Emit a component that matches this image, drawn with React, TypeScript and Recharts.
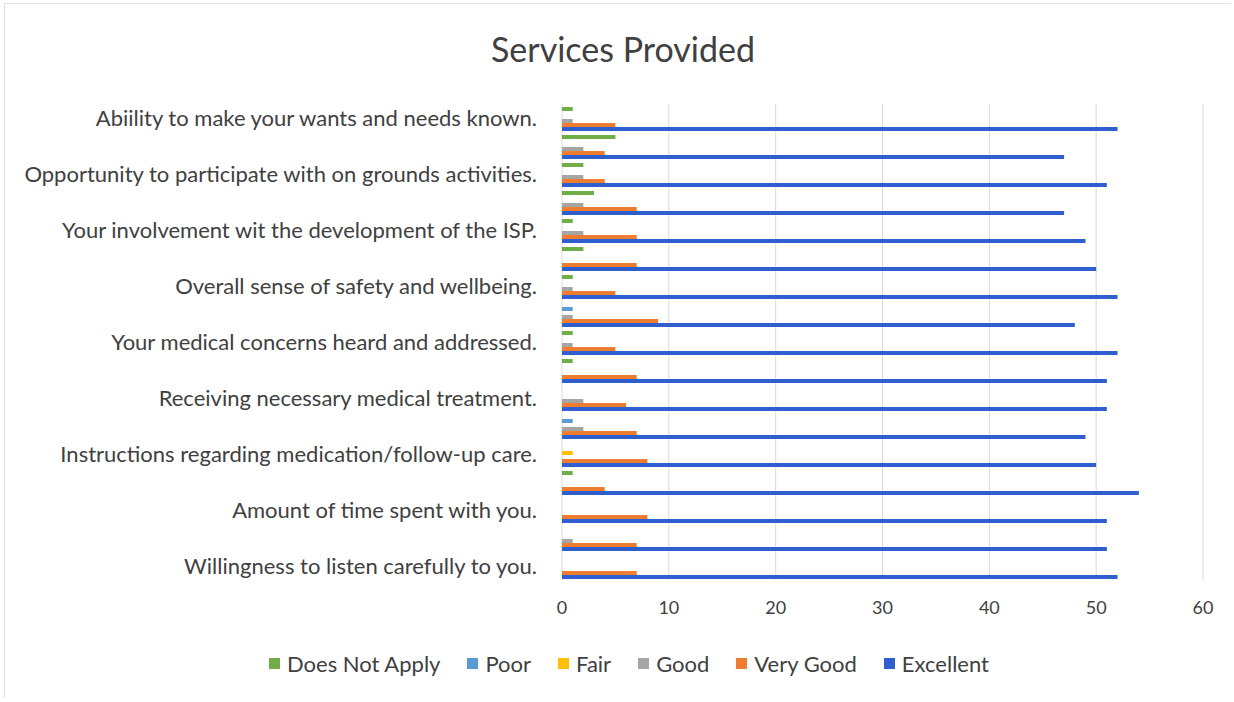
import { Bar, BarChart, CartesianGrid, Legend, XAxis, YAxis } from 'recharts';

const categories = [
  'Abiility to make your wants and needs known.',
  'Respect for your privacy.',
  'Opportunity to participate with on grounds activities.',
  'Opportunity to participate in off grounds activities.',
  'Your involvement wit the development of the ISP.',
  'Staff treat you with dignity and respect.',
  'Overall sense of safety and wellbeing.',
  'Ability to see a doctor when needed.',
  'Your medical concerns heard and addressed.',
  'Explanations of your medical condition.',
  'Receiving necessary medical treatment.',
  'Access to dental care.',
  'Instructions regarding medication/follow-up care.',
  'Courtesy shown to you.',
  'Amount of time spent with you.',
  'Staff answered your questions.',
  'Willingness to listen carefully to you.',
];

const doesNotApply = [1, 5, 2, 3, 1, 2, 1, 0, 1, 1, 0, 0, 0, 1, 0, 0, 0];
const poor = [0, 0, 0, 0, 0, 0, 0, 1, 0, 0, 0, 1, 0, 0, 0, 0, 0];
const fair = [0, 0, 0, 0, 0, 0, 0, 0, 0, 0, 0, 0, 1, 0, 0, 0, 0];
const good = [1, 2, 2, 2, 2, 0, 1, 1, 1, 0, 2, 2, 0, 0, 0, 1, 0];
const veryGood = [5, 4, 4, 7, 7, 7, 5, 9, 5, 7, 6, 7, 8, 4, 8, 7, 7];
const excellent = [52, 47, 51, 47, 49, 50, 52, 48, 52, 51, 51, 49, 50, 54, 51, 51, 52];

const xTicks = [0, 10, 20, 30, 40, 50, 60];

const series = [
  { key: 'doesNotApply', name: 'Does Not Apply', color: '#70AD47' },
  { key: 'poor', name: 'Poor', color: '#5B9BD5' },
  { key: 'fair', name: 'Fair', color: '#FFC000' },
  { key: 'good', name: 'Good', color: '#A5A5A5' },
  { key: 'veryGood', name: 'Very Good', color: '#ED7D31' },
  { key: 'excellent', name: 'Excellent', color: '#2F5FCF' },
];

const data = categories.map((name, i) => ({
  name,
  doesNotApply: doesNotApply[i],
  poor: poor[i],
  fair: fair[i],
  good: good[i],
  veryGood: veryGood[i],
  excellent: excellent[i],
}));

const FONT = 'Lato, sans-serif';
const TEXT = '#404040';

function LegendContent() {
  return (
    <div
      style={{
        height: 30,
        width: 1234,
        paddingLeft: 24,
        boxSizing: 'border-box',
        display: 'flex',
        justifyContent: 'center',
        alignItems: 'center',
        gap: 27,
        fontSize: 22,
        fontFamily: FONT,
        color: TEXT,
      }}
    >
      {series.map((s) => (
        <div key={s.key} style={{ display: 'flex', alignItems: 'center' }}>
          <span style={{ width: 11, height: 11, background: s.color, marginRight: 7, display: 'inline-block' }} />
          <span>{s.name}</span>
        </div>
      ))}
    </div>
  );
}

export default function App() {
  return (
    <div
      style={{
        position: 'absolute',
        left: 0,
        top: 0,
        width: 1234,
        height: 702,
        background: '#fff',
        fontFamily: FONT,
      }}
    >
      <div
        style={{
          position: 'absolute',
          left: 4,
          top: 3,
          width: 1226,
          height: 694,
          borderTop: '1px solid #e2e2e2',
          borderLeft: '1px solid #e2e2e2',
        }}
      />
      <div
        style={{
          position: 'absolute',
          top: 28,
          left: 0,
          width: 1246,
          textAlign: 'center',
          fontSize: 34,
          color: TEXT,
        }}
      >
        Services Provided
      </div>
      <BarChart
        width={1234}
        height={702}
        layout="vertical"
        data={data}
        margin={{ top: 104, right: 31, bottom: 0, left: 20 }}
        barCategoryGap={3}
        barGap={0}
        style={{ position: 'absolute', left: 0, top: 0 }}
      >
        <CartesianGrid horizontal={false} stroke="#d9d9d9" />
        <XAxis
          type="number"
          domain={[0, 60]}
          ticks={xTicks}
          axisLine={false}
          tickLine={false}
          tickMargin={15}
          height={92}
          tick={{ fill: TEXT, fontSize: 18, fontFamily: FONT }}
        />
        <YAxis
          type="category"
          dataKey="name"
          width={542}
          interval={1}
          axisLine={false}
          tickLine={false}
          tickSize={0}
          tickMargin={25}
          tick={{ fill: TEXT, fontSize: 22, fontFamily: FONT }}
        />
        <Legend
          verticalAlign="bottom"
          content={<LegendContent />}
          wrapperStyle={{ bottom: 24, left: 0, width: 1234 }}
        />
        {series.map((s) => (
          <Bar key={s.key} dataKey={s.key} name={s.name} fill={s.color} isAnimationActive={false} />
        ))}
      </BarChart>
    </div>
  );
}
